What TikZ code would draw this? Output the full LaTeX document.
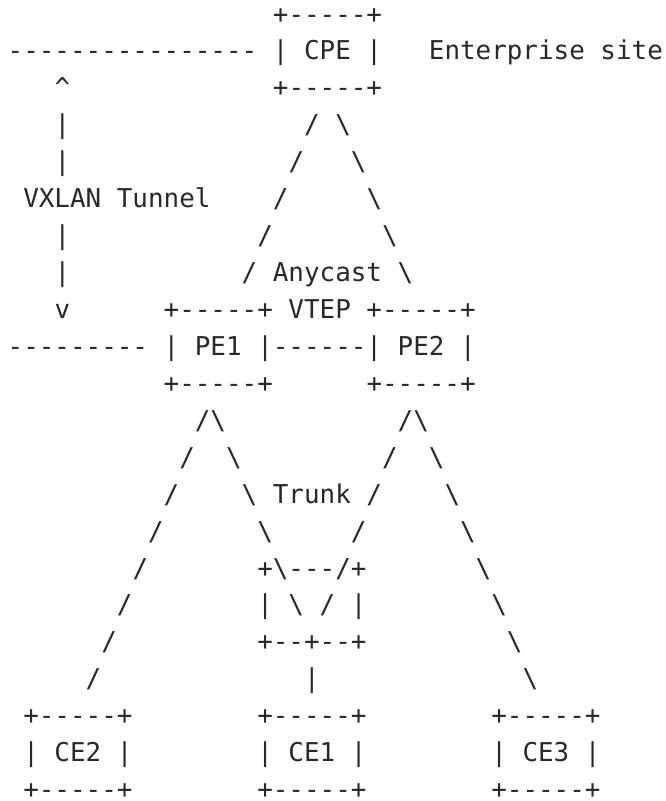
\documentclass[tikz,border=0pt]{standalone}
\usepackage{fontspec}
\setmonofont{DejaVu Sans Mono}
\definecolor{ink}{RGB}{40,40,40}
\newcommand\bs{\textbackslash{}}
\newcommand\seg[3]{\node[txt] (s-#1-#2) at ({7.7+15.6*#2},{801-23.07-36.93*(#1-1)}) {#3};}
\begin{document}
\begin{tikzpicture}[x=1pt,y=1pt,
  txt/.style={anchor=base west, inner sep=0pt, outer sep=0pt, text depth=0pt,
    font=\ttfamily\fontsize{25.91}{30}\selectfont, text=ink}]
\useasboundingbox (0,0) rectangle (665,801);
\fill[white] (0,0) rectangle (665,801);
\seg{1}{17}{+-----+}
\seg{2}{0}{----------------}
\seg{2}{17}{| CPE |}
\seg{2}{27}{Enterprise site}
\seg{3}{3}{\textasciicircum}
\seg{3}{17}{+-----+}
\seg{4}{3}{|} \seg{4}{19}{/} \seg{4}{21}{\bs}
\seg{5}{3}{|} \seg{5}{18}{/} \seg{5}{22}{\bs}
\seg{6}{1}{VXLAN Tunnel} \seg{6}{17}{/} \seg{6}{23}{\bs}
\seg{7}{3}{|} \seg{7}{16}{/} \seg{7}{24}{\bs}
\seg{8}{3}{|} \seg{8}{15}{/ Anycast \bs}
\seg{9}{3}{v} \seg{9}{10}{+-----+ VTEP +-----+}
\seg{10}{0}{---------} \seg{10}{10}{| PE1 |------| PE2 |}
\seg{11}{10}{+-----+} \seg{11}{23}{+-----+}
\seg{12}{12}{/\bs} \seg{12}{25}{/\bs}
\seg{13}{11}{/} \seg{13}{14}{\bs} \seg{13}{24}{/} \seg{13}{27}{\bs}
\seg{14}{10}{/} \seg{14}{15}{\bs{} Trunk /} \seg{14}{28}{\bs}
\seg{15}{9}{/} \seg{15}{16}{\bs} \seg{15}{22}{/} \seg{15}{29}{\bs}
\seg{16}{8}{/} \seg{16}{16}{+\bs---/+} \seg{16}{30}{\bs}
\seg{17}{7}{/} \seg{17}{16}{| \bs{} / |} \seg{17}{31}{\bs}
\seg{18}{6}{/} \seg{18}{16}{+--+--+} \seg{18}{32}{\bs}
\seg{19}{5}{/} \seg{19}{19}{|} \seg{19}{33}{\bs}
\seg{20}{1}{+-----+} \seg{20}{16}{+-----+} \seg{20}{31}{+-----+}
\seg{21}{1}{| CE2 |} \seg{21}{16}{| CE1 |} \seg{21}{31}{| CE3 |}
\seg{22}{1}{+-----+} \seg{22}{16}{+-----+} \seg{22}{31}{+-----+}
\end{tikzpicture}
\end{document}
